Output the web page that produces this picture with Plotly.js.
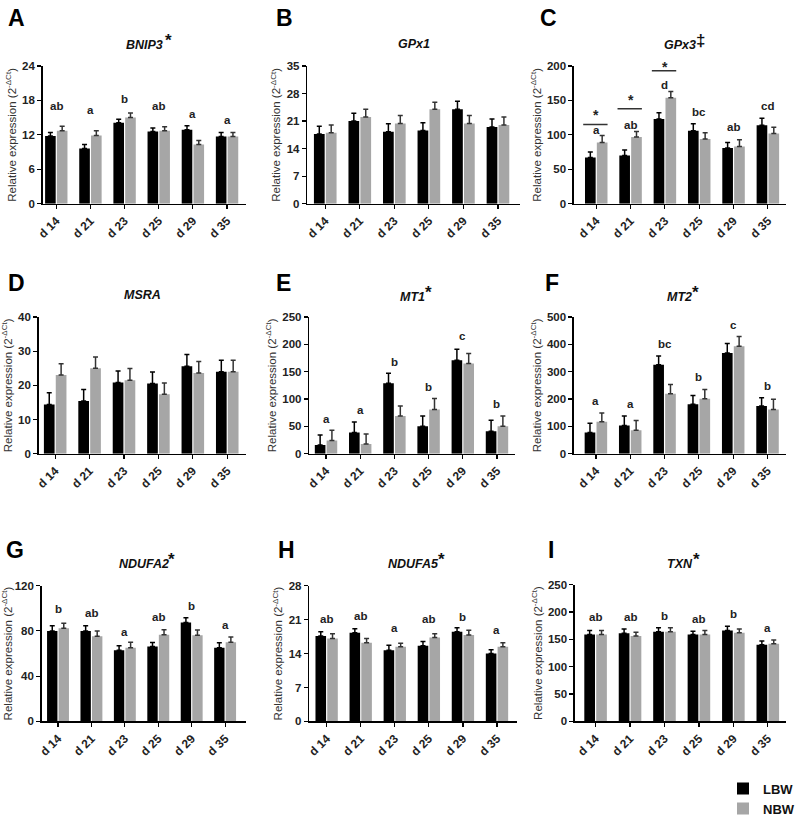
<!DOCTYPE html>
<html><head><meta charset="utf-8">
<script src="https://cdn.plot.ly/plotly-3.0.1.min.js"></script>
<style>html,body{margin:0;padding:0;background:#fff}</style>
</head><body><div id="chart" style="width:800px;height:824px"></div>
<script>
// ---- data ----
const DAYS = ['d 14','d 21','d 23','d 25','d 29','d 35'];
const GENES = ['BNIP3','GPx1','GPx3','MSRA','MT1','MT2','NDUFA2','NDUFA5','TXN'];
const GENE_MARKS = ['*','','‡','','*','*','*','*','*'];
const PANEL_LETTERS = ['A','B','C','D','E','F','G','H','I'];
const Y_MAX = [24,35,200,40,250,500,120,28,250];
const Y_STEP = [6,7,50,10,50,100,40,7,50];

const BNIP3_LBW = [11.8,9.6,14.1,12.6,12.9,11.7];
const BNIP3_NBW = [12.7,11.9,15.0,12.7,10.3,11.7];
const BNIP3_LBW_ERR = [0.6,0.7,0.6,0.6,0.7,0.7];
const BNIP3_NBW_ERR = [0.8,0.8,0.8,0.7,0.7,0.7];
const BNIP3_LETTERS = ['ab','a','b','ab','a','a'];
const BNIP3_LETTER_Y = [17.1,16.4,18.2,17.1,15.7,14.6];

const GPX1_LBW = [17.7,21.0,18.3,18.6,24.0,19.5];
const GPX1_NBW = [18.0,22.0,20.4,24.0,20.4,20.0];
const GPX1_LBW_ERR = [2.0,2.0,2.0,2.0,2.0,2.0];
const GPX1_NBW_ERR = [2.0,2.0,2.0,1.8,2.0,2.0];

const GPX3_LBW = [67,70,123,106,81,114];
const GPX3_NBW = [89,97,154,94,83,102];
const GPX3_LBW_ERR = [8,8,9,10,8,10];
const GPX3_NBW_ERR = [10,8,9,9,10,9];
const GPX3_LETTERS = ['a','ab','d','bc','ab','cd'];
const GPX3_LETTER_Y = [107,114,172,133,112,142];
const GPX3_SIG_DAYS = [0,1,2];
const GPX3_SIG_LINE_Y = [115,138,193];
const GPX3_SIG_STAR_Y = [129,150,199];

const MSRA_LBW = [14.4,15.4,20.8,20.5,25.6,24.0];
const MSRA_NBW = [23.0,25.0,21.5,17.4,23.6,24.0];
const MSRA_LBW_ERR = [3.4,3.4,3.4,3.4,3.4,3.3];
const MSRA_NBW_ERR = [3.3,3.3,3.4,3.3,3.4,3.3];

const MT1_LBW = [16,39,129,50,171,41];
const MT1_NBW = [24,18,69,81,165,50];
const MT1_LBW_ERR = [18,19,18,19,20,20];
const MT1_NBW_ERR = [19,18,18,20,18,19];
const MT1_LETTERS = ['a','a','b','b','c','b'];
const MT1_LETTER_Y = [63,80,167,122,215,90];

const MT2_LBW = [78,103,325,181,368,174];
const MT2_NBW = [117,86,219,201,393,162];
const MT2_LBW_ERR = [33,35,32,32,35,31];
const MT2_NBW_ERR = [32,35,34,34,35,37];
const MT2_LETTERS = ['a','a','bc','b','c','b'];
const MT2_LETTER_Y = [192,181,402,282,469,247];

const NDUFA2_LBW = [80,80,62.8,66.3,87.5,65];
const NDUFA2_NBW = [82.3,75.3,65,76.5,76.2,70];
const NDUFA2_LBW_ERR = [4.5,4.5,4,3.5,4,4.5];
const NDUFA2_NBW_ERR = [4.5,4.5,5,4.5,4.5,4.5];
const NDUFA2_LETTERS = ['b','ab','a','ab','b','a'];
const NDUFA2_LETTER_Y = [99,96,79,92.5,102,85];

const NDUFA5_LBW = [17.6,18.3,14.7,15.6,18.5,14.0];
const NDUFA5_NBW = [17.1,16.2,15.4,17.3,17.8,15.4];
const NDUFA5_LBW_ERR = [0.9,0.8,1.0,0.9,0.8,0.8];
const NDUFA5_NBW_ERR = [1.0,0.9,0.7,0.8,1.0,0.8];
const NDUFA5_LETTERS = ['ab','ab','a','ab','b','a'];
const NDUFA5_LETTER_Y = [21.1,21.8,19.2,21.1,21.6,18.8];

const TXN_LBW = [159,161,164,159,166,140];
const TXN_NBW = [159,156,164,159,162,142];
const TXN_LBW_ERR = [7,8,7,6,8,7];
const TXN_NBW_ERR = [7,7,7,7,7,7];
const TXN_LETTERS = ['ab','ab','b','ab','b','a'];
const TXN_LETTER_Y = [190,190,193,187,196,170];

const SERIES = [
  [BNIP3_LBW,BNIP3_NBW,BNIP3_LBW_ERR,BNIP3_NBW_ERR,BNIP3_LETTERS,BNIP3_LETTER_Y],
  [GPX1_LBW,GPX1_NBW,GPX1_LBW_ERR,GPX1_NBW_ERR,null,null],
  [GPX3_LBW,GPX3_NBW,GPX3_LBW_ERR,GPX3_NBW_ERR,GPX3_LETTERS,GPX3_LETTER_Y],
  [MSRA_LBW,MSRA_NBW,MSRA_LBW_ERR,MSRA_NBW_ERR,null,null],
  [MT1_LBW,MT1_NBW,MT1_LBW_ERR,MT1_NBW_ERR,MT1_LETTERS,MT1_LETTER_Y],
  [MT2_LBW,MT2_NBW,MT2_LBW_ERR,MT2_NBW_ERR,MT2_LETTERS,MT2_LETTER_Y],
  [NDUFA2_LBW,NDUFA2_NBW,NDUFA2_LBW_ERR,NDUFA2_NBW_ERR,NDUFA2_LETTERS,NDUFA2_LETTER_Y],
  [NDUFA5_LBW,NDUFA5_NBW,NDUFA5_LBW_ERR,NDUFA5_NBW_ERR,NDUFA5_LETTERS,NDUFA5_LETTER_Y],
  [TXN_LBW,TXN_NBW,TXN_LBW_ERR,TXN_NBW_ERR,TXN_LETTERS,TXN_LETTER_Y]
];

// ---- layout geometry (pixels) ----
const W = 800, H = 824;
const BOXES = [
  [43,248,67,207],[310,525,67,207],[579,793,67,207],
  [39,248,322,461],[312,520,322,461],[579,793,322,461],
  [42,248,595,733],[312,522,595,733],[580,793,594,733]
];
const XRANGES = [[-0.4,5.55],[-0.52,5.65],[-0.65,5.53],[-0.48,5.54],[-0.49,5.54],[-0.64,5.54],[-0.49,5.62],[-0.51,5.6],[-0.6,5.53]];
const TITLE_Y = [46,45,46,300,302,302,573,573,573];
const LETTER_POS = [[6,3],[276,3],[543,3],[6,272],[276,272],[548,272],[4,544],[278,544],[551,544]];

const FONT = 'Liberation Sans, Arial, Helvetica, sans-serif';
const LBW_COLOR = '#000000', NBW_COLOR = '#a6a6a6';

const traces = [];
const layout = {
  width: W, height: H, margin: {l:0,r:0,t:0,b:0},
  paper_bgcolor:'#fff', plot_bgcolor:'#fff',
  barmode:'group', bargap:0.31, bargroupgap:0.1,
  font:{family:FONT, color:'#222'},
  showlegend:true,
  legend:{x:0.912, y:1-786/H, xanchor:'left', yanchor:'top', bgcolor:'rgba(0,0,0,0)',
          font:{family:FONT,size:13,color:'#111',weight:'bold'}, tracegroupgap:0},
  annotations:[], shapes:[]
};

SERIES.forEach((s,i)=>{
  const n = i===0 ? '' : String(i+1);
  const xa = 'x'+n, ya = 'y'+n;
  const [lbw,nbw,le,ne,letters,ly] = s;
  traces.push({type:'bar', name:'LBW', x:DAYS, y:lbw, xaxis:xa, yaxis:ya,
    marker:{color:LBW_COLOR}, showlegend:i===0, legendgroup:'LBW',
    error_y:{type:'data', symmetric:false, array:le, arrayminus:le.map(()=>0), color:'#000', thickness:1.5, width:2.5}});
  traces.push({type:'bar', name:'NBW', x:DAYS, y:nbw, xaxis:xa, yaxis:ya,
    marker:{color:NBW_COLOR}, showlegend:i===0, legendgroup:'NBW',
    error_y:{type:'data', symmetric:false, array:ne, arrayminus:ne.map(()=>0), color:'#333', thickness:1.5, width:2.5}});
  const [x0,x1,y0,y1] = BOXES[i];
  layout['xaxis'+n] = {domain:[x0/W,x1/W], anchor:ya, type:'category', range:XRANGES[i],
    showline:true, linecolor:'#000', linewidth:1.5, ticks:'outside', ticklen:4, tickwidth:1.2, tickcolor:'#000',
    tickangle:-45, tickfont:{family:FONT,size:12,color:'#222',weight:'bold'}, showgrid:false, zeroline:false, fixedrange:true};
  layout['yaxis'+n] = {domain:[1-y1/H,1-y0/H], anchor:xa, range:[0,Y_MAX[i]], dtick:Y_STEP[i], tick0:0,
    showline:true, linecolor:'#000', linewidth:1.5, ticks:'outside', ticklen:4, tickwidth:1.2, tickcolor:'#000',
    tickfont:{family:FONT,size:11.5,color:'#222',weight:'bold'}, showgrid:false, zeroline:false, fixedrange:true,
    title:{text:'Relative expression (2<sup>-ΔCt</sup>)', font:{family:FONT,size:11.5,color:'#333'}, standoff:3}};
  // panel title
  layout.annotations.push({xref:'paper', yref:'paper', x:(x0+x1)/2/W, y:1-TITLE_Y[i]/H, xanchor:'center', yanchor:'middle',
    showarrow:false, text:'<i>'+GENES[i]+'</i>', font:{family:FONT,size:12.5,color:'#111',weight:'bold'}});
  if (GENE_MARKS[i]) layout.annotations.push({xref:'paper', yref:'paper', x:(x0+x1)/2/W, y:1-(TITLE_Y[i]-5)/H, xanchor:'left', yanchor:'middle',
    xshift: GENES[i].length*4.1-2, showarrow:false, text:'<b>'+GENE_MARKS[i]+'</b>', font:{family:FONT,size:17,color:'#111'}});
  // panel letter
  layout.annotations.push({xref:'paper', yref:'paper', x:LETTER_POS[i][0]/W, y:1-LETTER_POS[i][1]/H, xanchor:'left', yanchor:'top',
    showarrow:false, text:'<b>'+PANEL_LETTERS[i]+'</b>', font:{family:FONT,size:23,color:'#000'}});
  // significance letters
  if (letters) letters.forEach((t,k)=>{
    layout.annotations.push({xref:xa, yref:ya, x:k, y:ly[k], xanchor:'center', yanchor:'middle', showarrow:false,
      text:t, font:{family:FONT,size:11.5,color:'#222',weight:'bold'}});
  });
});

// GPx3 pairwise significance lines
GPX3_SIG_DAYS.forEach((k,j)=>{
  layout.shapes.push({type:'line', xref:'x3', yref:'y3', x0:k-0.38, x1:k+0.33, y0:GPX3_SIG_LINE_Y[j], y1:GPX3_SIG_LINE_Y[j],
    line:{color:'#333', width:1.5}});
  layout.annotations.push({xref:'x3', yref:'y3', x:k, y:GPX3_SIG_STAR_Y[j], xanchor:'center', yanchor:'middle', showarrow:false,
    text:'*', font:{family:FONT,size:14,color:'#222',weight:'bold'}});
});

Plotly.newPlot('chart', traces, layout, {staticPlot:true, displayModeBar:false});
</script></body></html>
